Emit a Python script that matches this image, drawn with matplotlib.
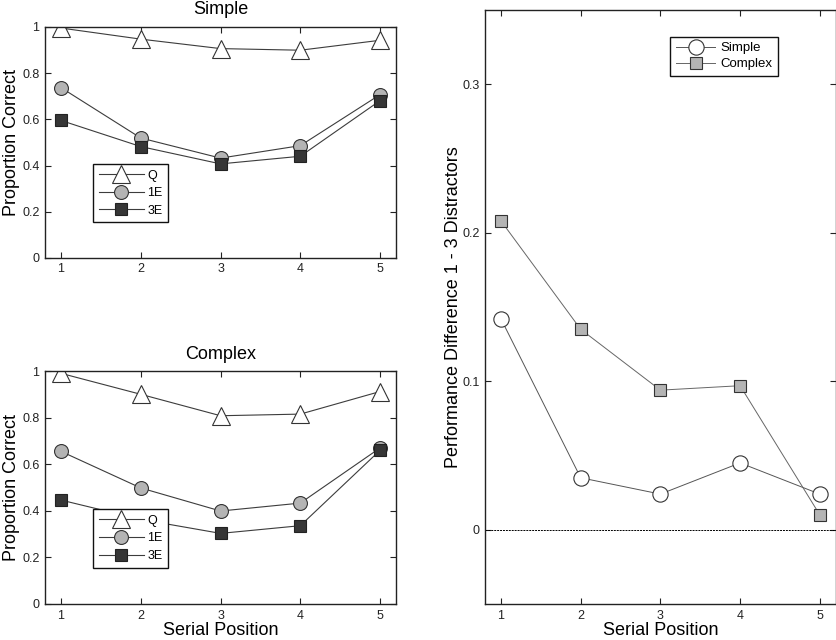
import matplotlib
matplotlib.use("Agg")
import matplotlib.pyplot as plt

plt.rcParams['font.family'] = ['Liberation Sans', 'DejaVu Sans']

positions = [1, 2, 3, 4, 5]

# Simple condition: proportion correct
simple_q = [0.995, 0.947, 0.906, 0.899, 0.942]
simple_1e = [0.737, 0.519, 0.432, 0.486, 0.707]
simple_3e = [0.595, 0.482, 0.407, 0.440, 0.681]

# Complex condition: proportion correct
complex_q = [0.99, 0.90, 0.808, 0.815, 0.912]
complex_1e = [0.655, 0.498, 0.399, 0.433, 0.670]
complex_3e = [0.446, 0.363, 0.303, 0.336, 0.660]

# Performance difference 1 - 3 distractors
diff_simple = [0.142, 0.035, 0.024, 0.045, 0.024]
diff_complex = [0.208, 0.135, 0.094, 0.097, 0.010]

line_col = '#3c3c3c'


def style_axes(ax, ylim, yticks, yticklabels):
    ax.set_xlim(0.8, 5.2)
    ax.set_ylim(*ylim)
    ax.set_xticks(positions)
    ax.set_yticks(yticks)
    ax.set_yticklabels(yticklabels)
    ax.tick_params(direction='in', top=True, right=True, labelsize=9,
                   length=4, width=0.8, colors='#222222', pad=4)
    for s in ax.spines.values():
        s.set_linewidth(1.0)
        s.set_color('#222222')


def frame_legend(leg):
    leg.set_zorder(10)
    leg.get_frame().set_edgecolor('#111111')
    leg.get_frame().set_linewidth(1.0)


def panel(ax, q, e1, e3, title, xlabel=None):
    ax.plot(positions, q, '-^', color=line_col, lw=0.8, ms=13,
            mfc='white', mec='#333333', mew=0.8, label='Q')
    ax.plot(positions, e1, '-o', color=line_col, lw=0.8, ms=10,
            mfc='#b4b4b4', mec='#333333', mew=0.8, label='1E')
    ax.plot(positions, e3, '-s', color=line_col, lw=0.8, ms=8,
            mfc='#363636', mec='#222222', mew=0.8, label='3E')
    style_axes(ax, (0, 1), [0, 0.2, 0.4, 0.6, 0.8, 1],
               ['0', '0.2', '0.4', '0.6', '0.8', '1'])
    ax.set_title(title, fontsize=13, pad=9)
    ax.set_ylabel('Proportion Correct', fontsize=13, labelpad=1.5)
    if xlabel:
        ax.set_xlabel(xlabel, fontsize=13, labelpad=0)
    leg = ax.legend(loc='upper left', bbox_to_anchor=(0.137, 0.407),
                    fontsize=9, frameon=True, fancybox=False, framealpha=1,
                    handlelength=3.6, borderpad=0.45, labelspacing=0.45,
                    handletextpad=0.3, borderaxespad=0)
    frame_legend(leg)


fig = plt.figure(figsize=(8.37, 6.4), dpi=100)
ax1 = fig.add_axes([0.0538, 0.597, 0.4194, 0.361])
ax2 = fig.add_axes([0.0538, 0.0563, 0.4194, 0.364])
ax3 = fig.add_axes([0.5795, 0.0563, 0.419, 0.928])

panel(ax1, simple_q, simple_1e, simple_3e, 'Simple')
panel(ax2, complex_q, complex_1e, complex_3e, 'Complex', 'Serial Position')

ax3.axhline(0, color='black', lw=0.7, ls=(0, (2, 1)))
ax3.plot(positions, diff_simple, '-o', color='#555555', lw=0.7, ms=11,
         mfc='white', mec='#333333', mew=0.8, label='Simple')
ax3.plot(positions, diff_complex, '-s', color='#666666', lw=0.7, ms=8,
         mfc='#b4b4b4', mec='#333333', mew=0.8, label='Complex')
style_axes(ax3, (-0.05, 0.35), [0, 0.1, 0.2, 0.3], ['0', '0.1', '0.2', '0.3'])
ax3.set_xlabel('Serial Position', fontsize=13, labelpad=0)
ax3.set_ylabel('Performance Difference 1 - 3 Distractors', fontsize=13,
               labelpad=0)
leg = ax3.legend(loc='upper right', bbox_to_anchor=(0.835, 0.955),
                 fontsize=9.5, frameon=True, fancybox=False, framealpha=1,
                 handlelength=3.0, borderpad=0.4, labelspacing=0.3,
                 handletextpad=0.4, borderaxespad=0)
frame_legend(leg)

fig.savefig('out.png', dpi=100)
